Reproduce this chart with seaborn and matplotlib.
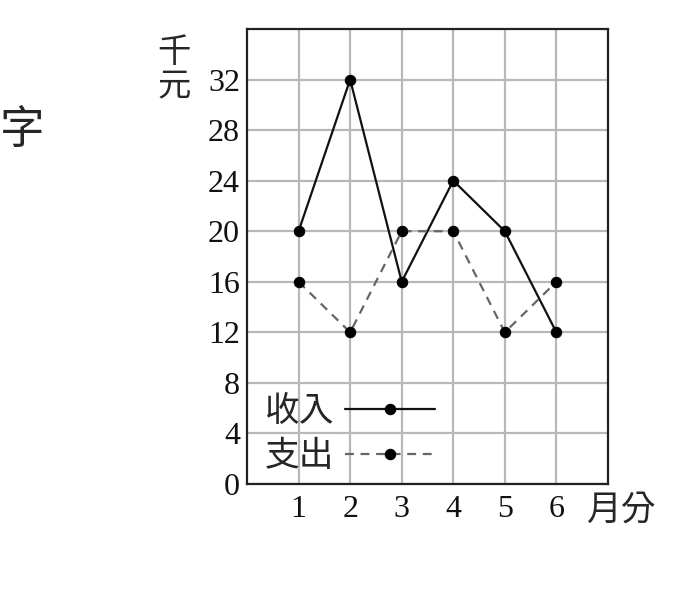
import matplotlib
matplotlib.use("Agg")
import matplotlib.pyplot as plt
import seaborn as sns
import pandas as pd

# data
months = [1, 2, 3, 4, 5, 6]
income = [20, 32, 16, 24, 20, 12]
expense = [16, 12, 20, 20, 12, 16]
y_ticks = [0, 4, 8, 12, 16, 20, 24, 28, 32]

SERIF = ["Liberation Serif", "DejaVu Serif"]
CJK = ["Noto Sans CJK TC", "DejaVu Sans"]

sns.set_theme(style="white")
plt.rcParams["font.family"] = SERIF

df = pd.DataFrame({"month": months, "income": income, "expense": expense})

fig = plt.figure(figsize=(6.74, 6.0), dpi=100)
ax = fig.add_axes([0.3665, 0.1933, 0.5355, 0.7584])

sns.lineplot(data=df, x="month", y="income", ax=ax, color="#111111",
             linewidth=1.6, marker="o", markersize=7.5,
             markerfacecolor="black", markeredgecolor="black", label="收入")
sns.lineplot(data=df, x="month", y="expense", ax=ax, color="#666666",
             linewidth=1.6, linestyle=(0, (4, 3)), marker="o", markersize=7.5,
             markerfacecolor="black", markeredgecolor="black", label="支出")

ax.set_xlim(0, 7)
ax.set_ylim(0, 36)
ax.set_xticks(months)
ax.set_yticks(y_ticks)
ax.grid(True, which="major", color="#b8b8b8", linewidth=1.6)
ax.set_axisbelow(True)
ax.tick_params(axis="both", length=0, labelsize=23, colors="#111111")
ax.tick_params(axis="x", pad=8)
ax.tick_params(axis="y", pad=5)
ax.set_xlabel("")
ax.set_ylabel("")
for s in ax.spines.values():
    s.set_color("#222222")
    s.set_linewidth(1.6)
    s.set_visible(True)

leg = ax.legend(loc="lower left", bbox_to_anchor=(0.05, 0.022), frameon=False,
                markerfirst=False, handlelength=2.6, handletextpad=0.3,
                labelspacing=0.28, borderpad=0, borderaxespad=0,
                prop={"family": CJK, "size": 25})

fig.text(0.258, 0.885, "千\n元", family=CJK, fontsize=24, ha="center",
         va="center", linespacing=0.95)
fig.text(0.922, 0.150, "月分", family=CJK, fontsize=25, ha="center", va="center")
fig.text(0.033, 0.783, "字", family=CJK, fontsize=32, ha="center", va="center")

fig.savefig("out.png", dpi=100)
